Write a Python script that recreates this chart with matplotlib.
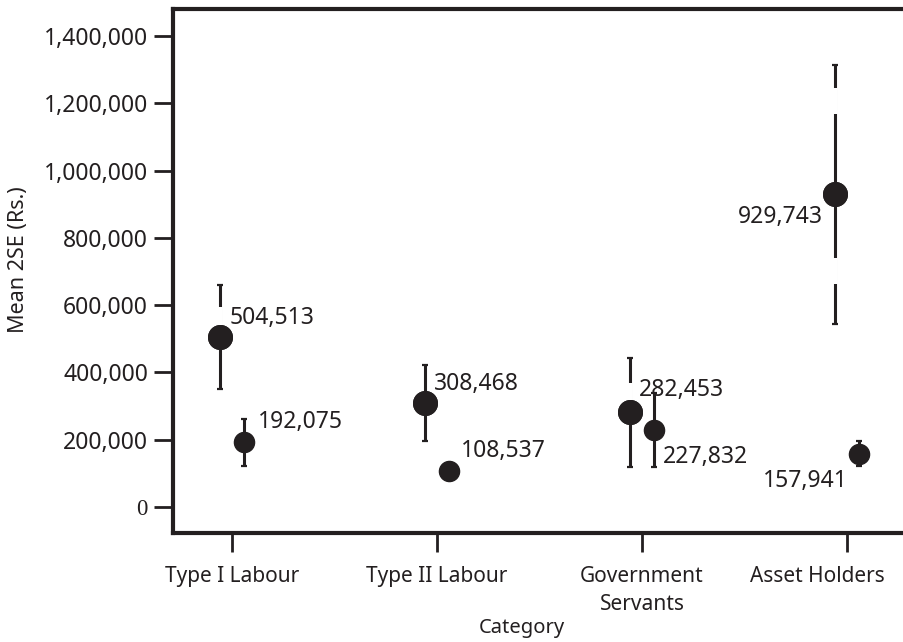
import numpy as np
import matplotlib.pyplot as plt
from matplotlib.ticker import FuncFormatter

plt.rcParams['font.family'] = ['Noto Sans', 'DejaVu Sans']

ink = '#231f20'

categories = ['Type I Labour', 'Type II Labour', 'Government\nServants', 'Asset Holders']
mean_a = [504513, 308468, 282453, 929743]
err_a = [155000, 113000, 162000, 385000]
mean_b = [192075, 108537, 227832, 157941]
err_b = [70000, 14000, 110000, 37000]

# breaks in the whiskers of the first series: (category index, low, high)
whisker_breaks = [(0, 541000, 594000), (2, 318000, 368000),
                  (3, 663000, 740000), (3, 1168000, 1245000)]

# where each value label sits relative to its point (points), and alignment
label_a = [((7, 14), 'left'), ((6, 14), 'left'), ((6, 16), 'left'), ((-8.5, -16.5), 'right')]
label_b = [((10, 15), 'left'), ((9, 14), 'left'), ((6.5, -19), 'left'), ((-8, -19.5), 'right')]

x = np.arange(len(categories))
dx = 0.058

fig = plt.figure(figsize=(9.04, 6.42), dpi=100)
ax = fig.add_axes([173/904, 1 - 533/642, 733/904, 524/642])

ax.errorbar(x - dx, mean_a, yerr=err_a, fmt='o', color=ink, ms=17, elinewidth=2.2,
            capsize=2.2, capthick=1.6, zorder=3)
ax.errorbar(x + dx, mean_b, yerr=err_b, fmt='o', color=ink, ms=14.5, elinewidth=2.2,
            capsize=2.2, capthick=1.6, zorder=3)

for i, lo, hi in whisker_breaks:
    ax.vlines(x[i] - dx, lo, hi, color='white', lw=4, zorder=3.5)
# redraw the markers over the breaks
ax.plot(x - dx, mean_a, 'o', color=ink, ms=17, zorder=4)

for xs, ys, labs in ((x - dx, mean_a, label_a), (x + dx, mean_b, label_b)):
    for xi, yi, (off, ha) in zip(xs, ys, labs):
        ax.annotate(f'{yi:,}', (xi, yi), xytext=off, textcoords='offset points',
                    ha=ha, va='center', fontsize=16.5, color=ink, zorder=5)

ax.set_xlim(-0.288, 3.288)
ax.set_ylim(-77000, 1480000)
ax.set_xticks(x)
# the last category label is drawn by hand, pulled left to stay inside the figure
ax.set_xticklabels(categories[:-1] + [''], fontsize=15, color=ink, linespacing=1.4)
ax.annotate(categories[-1], (x[-1], 0), xycoords=ax.get_xaxis_transform(),
            xytext=(-21, -24), textcoords='offset points', ha='center', va='top',
            fontsize=15, color=ink, annotation_clip=False)

ax.set_yticks(np.arange(0, 1400001, 200000))
ax.yaxis.set_major_formatter(FuncFormatter(lambda v, p: f'{int(v):,}'))
for t in ax.get_yticklabels():
    t.set_fontsize(16.5)
    t.set_color(ink)
ax.get_yticklabels()[0].set_family('Liberation Serif')

ax.tick_params(axis='both', direction='out', length=14, width=2, color=ink, pad=4)
ax.tick_params(axis='x', pad=10)
for side in ('left', 'bottom', 'top'):
    ax.spines[side].set_linewidth(3)
    ax.spines[side].set_color(ink)
ax.spines['right'].set_visible(False)

ax.set_ylabel('Mean 2SE (Rs.)', fontsize=15.5, color=ink, va='center')
ax.yaxis.set_label_coords(-0.211, 0.521)
ax.set_xlabel('Category', fontsize=14.5, color=ink, va='center')
ax.xaxis.set_label_coords(0.476, -0.181)

fig.savefig('out.png', dpi=100)
